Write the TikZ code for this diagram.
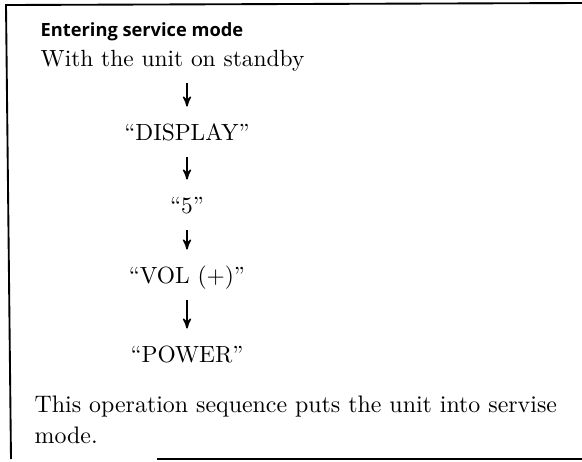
\documentclass[tikz,border=0pt]{standalone}
\usepackage{fontspec}
\newfontfamily\headfont{Open Sans}
\usetikzlibrary{arrows}

\begin{document}
\begin{tikzpicture}[x=0.427pt,y=-0.427pt,>=stealth',semithick,
                text line/.style={anchor=base west,inner sep=0pt,text depth=0pt},
                key node/.style={anchor=base,inner sep=0pt,text height=7pt,text depth=0pt},
                flow/.style={->,shorten <=7pt,shorten >=7pt},
                frame line/.style={line width=0.8pt}]
                \useasboundingbox (0,0) rectangle (582,462);
                \draw[frame line] (582,3) -- (6,5) -- (11,459);
                \draw[frame line] (157,459) -- (582,459);

                \node[text line,font=\headfont\bfseries\fontsize{7.8}{9}\selectfont] (title) at (40,36) {Entering service mode};
                \node[text line] (standby) at (40,66) {With the unit on standby};
                \node[key node] (display) at (187,140) {“DISPLAY”};
                \node[key node] (five) at (187,213) {“5”};
                \node[key node] (vol) at (187,283) {“VOL (+)”};
                \node[key node] (power) at (187,362) {“POWER”};
                \node[text line,font=\fontsize{10.2}{12}\selectfont] (note) at (34,412) {This operation sequence puts the unit into servise};
                \node[text line,font=\fontsize{10.2}{12}\selectfont] (note2) at (34,443) {mode.};

                \path
                (standby.south -| display.north) edge[flow] (display.north)
                (display) edge[flow] (five)
                (five) edge[flow] (vol)
                (vol) edge[flow] (power)
                ;
\end{tikzpicture}
\end{document}
